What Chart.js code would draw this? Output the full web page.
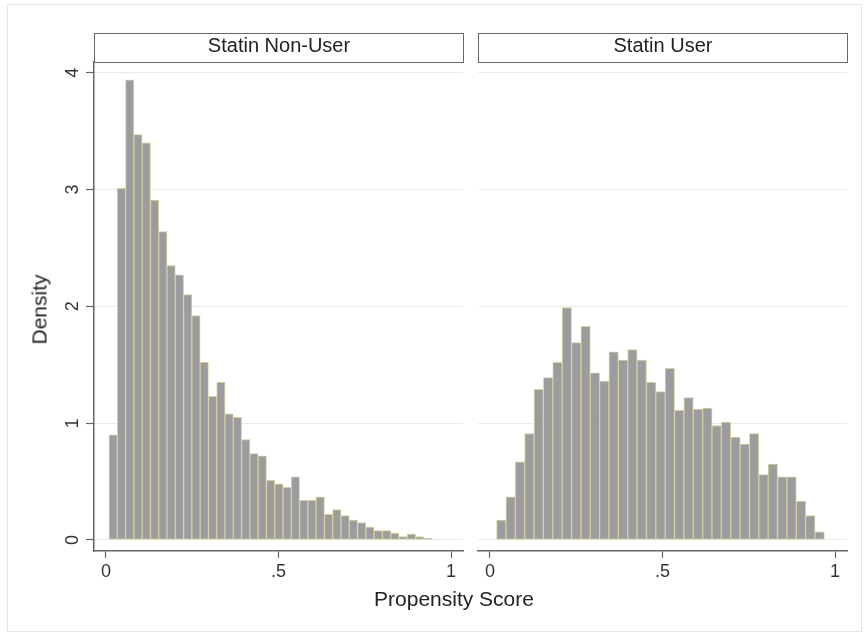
<!DOCTYPE html>
<html>
<head>
<meta charset="utf-8">
<script src="https://cdn.jsdelivr.net/npm/chart.js@4.4.1/dist/chart.umd.min.js"></script>
<style>
  html, body { margin: 0; padding: 0; background: #ffffff; }
  #page { position: relative; width: 867px; height: 633px; overflow: hidden;
          font-family: "Liberation Sans", Arial, sans-serif; color: #222; }
  #frame { position: absolute; left: 7px; top: 4px; width: 855px; height: 628px;
           border: 1px solid #e6e6e6; box-sizing: border-box; }
  canvas { position: absolute; top: 0; }
  .hdrbox { position: absolute; box-sizing: border-box; border: 1.5px solid #666; background: #fff; }
  .txt { position: absolute; white-space: nowrap; text-align: center; }
</style>
</head>
<body>
<div id="page">
  <div id="frame"></div>
  <canvas id="cLeft" width="470" height="633" style="left:0px"></canvas>
  <canvas id="cRight" width="397" height="633" style="left:470px"></canvas>
  <div class="hdrbox" style="left:94px; top:33px; width:370px; height:29.5px;"></div>
  <div class="hdrbox" style="left:478px; top:33px; width:370px; height:29.5px;"></div>
  <div class="txt" id="hdrL" style="left:94px; top:35px; width:370px; font-size:20px; line-height:20px;"></div>
  <div class="txt" id="hdrR" style="left:478px; top:35px; width:370px; font-size:20px; line-height:20px;"></div>
  <div class="txt" id="xTitle" style="left:254px; top:588px; width:400px; font-size:21px; line-height:21px;"></div>
  <div class="txt" id="yTitle" style="left:-60.8px; top:298.5px; width:200px; font-size:21px; line-height:21px; transform:rotate(-90deg); transform-origin:100px 10.5px;"></div>
</div>
<script>
// ---------------- data ----------------
const panelTitles = ["Statin Non-User", "Statin User"];
const xAxisTitle = "Propensity Score";
const yAxisTitle = "Density";

// histogram bins (start of first bin, bin width) and bar heights (density)
const nonUserBinStart = 0.009;
const nonUserBinWidth = 0.024;
const nonUserDensity = [0.90, 3.01, 3.94, 3.47, 3.40, 2.91, 2.64, 2.35, 2.27, 2.10,
                        1.92, 1.52, 1.23, 1.35, 1.08, 1.05, 0.86, 0.74, 0.72, 0.51,
                        0.48, 0.45, 0.54, 0.34, 0.34, 0.37, 0.22, 0.26, 0.21, 0.17,
                        0.15, 0.11, 0.08, 0.08, 0.06, 0.03, 0.05, 0.03, 0.015];

const userBinStart = 0.0194;
const userBinWidth = 0.02713;
const userDensity = [0.17, 0.37, 0.67, 0.91, 1.29, 1.39, 1.52, 1.99, 1.69, 1.83,
                     1.43, 1.36, 1.61, 1.54, 1.63, 1.54, 1.35, 1.27, 1.47, 1.11,
                     1.22, 1.12, 1.13, 0.98, 1.01, 0.88, 0.82, 0.91, 0.56, 0.65,
                     0.54, 0.54, 0.33, 0.21, 0.07];

const xTickValues = [0, 0.5, 1];
const xTickLabels = ["0", ".5", "1"];
const yTickValues = [0, 1, 2, 3, 4];
const yTickLabels = ["0", "1", "2", "3", "4"];

// ---------------- rendering ----------------
document.getElementById('hdrL').textContent = panelTitles[0];
document.getElementById('hdrR').textContent = panelTitles[1];
document.getElementById('xTitle').textContent = xAxisTitle;
document.getElementById('yTitle').textContent = yAxisTitle;

const FONT = "'Liberation Sans', Arial, sans-serif";
const X_MIN = -0.0345, X_MAX = 1.0345;
const Y_MIN = -0.0942, Y_MAX = 4.0916;
const AXIS_COLOR = '#666666';

function makeChart(canvasId, binStart, binWidth, values, showY, padding) {
  const points = values.map((v, i) => ({ x: binStart + (i + 0.5) * binWidth, y: v }));
  return new Chart(document.getElementById(canvasId), {
    type: 'bar',
    data: {
      datasets: [{
        data: points,
        backgroundColor: '#9c9b9e',
        borderColor: '#d4d09c',
        borderWidth: 1,
        borderSkipped: false,
        barPercentage: 1.0,
        categoryPercentage: 1.0
      }]
    },
    options: {
      responsive: false,
      animation: false,
      devicePixelRatio: 1,
      layout: { padding: padding },
      plugins: { legend: { display: false }, tooltip: { enabled: false }, title: { display: false } },
      scales: {
        x: {
          type: 'linear',
          min: X_MIN, max: X_MAX,
          offset: false,
          afterBuildTicks: s => { s.ticks = xTickValues.map(v => ({ value: v })); },
          afterFit: s => { s.height = 40; },
          ticks: {
            callback: (v, i) => xTickLabels[i],
            font: { family: FONT, size: 18 },
            color: '#333',
            padding: 3,
            maxRotation: 0, minRotation: 0,
            autoSkip: false
          },
          grid: { offset: false, drawOnChartArea: false, drawTicks: true, tickLength: 7, tickColor: AXIS_COLOR, tickWidth: 1.2 },
          border: { display: true, color: AXIS_COLOR, width: 1.5 }
        },
        y: {
          type: 'linear',
          min: Y_MIN, max: Y_MAX,
          afterBuildTicks: s => { s.ticks = yTickValues.map(v => ({ value: v })); },
          afterFit: s => { s.width = showY ? 94 : 0; },
          ticks: {
            display: showY,
            callback: (v, i) => yTickLabels[i],
            font: { family: FONT, size: 18 },
            color: '#333',
            minRotation: 90, maxRotation: 90,
            crossAlign: 'center',
            padding: 8
          },
          grid: { offset: false, color: '#ebebeb', lineWidth: 1, drawTicks: showY, tickLength: 8, tickColor: AXIS_COLOR, tickWidth: 1.2 },
          border: { display: showY, color: AXIS_COLOR, width: 1.5 }
        }
      }
    }
  });
}

makeChart('cLeft', nonUserBinStart, nonUserBinWidth, nonUserDensity, true,
          { left: 0, right: 7, top: 62, bottom: 42 });
makeChart('cRight', userBinStart, userBinWidth, userDensity, false,
          { left: 8, right: 20, top: 62, bottom: 42 });
</script>
</body>
</html>
